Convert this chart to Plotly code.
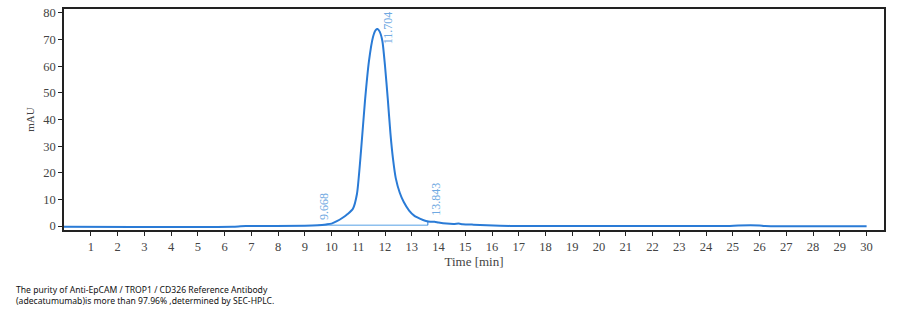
import plotly.graph_objects as go

# Chromatogram samples (time in min, signal in mAU)
time_min = [0, 6.3, 6.6, 6.8, 9.0, 9.5, 9.8, 10.0, 10.2, 10.4, 10.6, 10.8, 10.95,
            11.1, 11.25, 11.4, 11.55, 11.65, 11.72, 11.8, 11.9, 12.0, 12.1, 12.2,
            12.3, 12.4, 12.55, 12.7, 12.9, 13.1, 13.3, 13.5, 13.7, 13.85, 14.0,
            14.3, 14.6, 14.75, 14.9, 15.3, 15.8, 16.3, 17, 20, 24.8, 25.2, 26,
            26.2, 30]
signal_mau = [-0.3, -0.3, -0.1, 0.0, 0.1, 0.3, 0.6, 0.9, 1.8, 3.0, 4.5, 6.5, 12,
              28, 47, 62, 71, 73.6, 74, 73, 69.5, 60, 48, 35,
              25, 18, 12.5, 9, 5.8, 3.8, 2.8, 2.0, 1.6, 1.6, 1.3,
              0.9, 0.8, 0.9, 0.7, 0.5, 0.3, 0.1, 0.0, 0.0, 0.0, 0.2, 0.2,
              0.0, -0.1]

baseline_t = [9.5, 13.6]
baseline_y = [0.3, 0.3]
drop_t = [13.6, 13.6]
drop_y = [0.3, 2.0]

peak_labels = ["9.668", "11.704", "13.843"]
peak_label_x = [9.7, 12.12, 13.88]
peak_label_y = [1.5, 81.3, 3.0]
peak_label_anchor = ["bottom", "top", "bottom"]

x_ticks = list(range(1, 31))
y_ticks = list(range(0, 81, 10))

caption = ("The purity of Anti-EpCAM / TROP1 / CD326 Reference Antibody<br>"
           "(adecatumumab)is more than 97.96% ,determined by SEC-HPLC.")

fig = go.Figure()
fig.add_trace(go.Scatter(x=baseline_t, y=baseline_y, mode="lines",
                         line=dict(color="#8ec0ee", width=1.4), hoverinfo="skip"))
fig.add_trace(go.Scatter(x=drop_t, y=drop_y, mode="lines",
                         line=dict(color="#2a7bd6", width=1), hoverinfo="skip"))
fig.add_trace(go.Scatter(x=time_min, y=signal_mau, mode="lines",
                         line=dict(color="#2a7bd6", width=2, shape="spline", smoothing=0.6)))

for txt, xv, yv, anc in zip(peak_labels, peak_label_x, peak_label_y, peak_label_anchor):
    fig.add_annotation(x=xv, y=yv, xref="x", yref="y", text=txt, showarrow=False,
                       textangle=-90, yanchor=anc, xanchor="center",
                       font=dict(family="Liberation Serif", size=12, color="#6fa9e2"))

fig.add_annotation(x=(14 - 64) / 820, y=(315 - 85 - 296) / 224, xref="paper", yref="paper",
                   text=caption, showarrow=False, align="left", xanchor="left",
                   yanchor="middle",
                   font=dict(family="Noto Sans", size=8.6, color="#111"))

axis_common = dict(showline=True, linecolor="#222", linewidth=1.6, mirror=True,
                   ticks="outside", ticklen=4, tickcolor="#222", tickwidth=1.2,
                   showgrid=False, zeroline=False,
                   tickfont=dict(family="Liberation Serif", size=12.5, color="#444"))

fig.update_layout(
    width=902, height=315, margin=dict(l=64, r=18, t=6, b=85),
    paper_bgcolor="white", plot_bgcolor="white", showlegend=False,
    xaxis=dict(range=[0, 30.65], tickvals=x_ticks,
               title=dict(text="Time [min]", standoff=4,
                          font=dict(family="Liberation Serif", size=13, color="#444")),
               **axis_common),
    yaxis=dict(range=[-1.5, 81.5], tickvals=y_ticks,
               title=dict(text="mAU", standoff=6,
                          font=dict(family="Liberation Serif", size=11, color="#444")),
               **axis_common),
)

fig.write_html("out.html")
